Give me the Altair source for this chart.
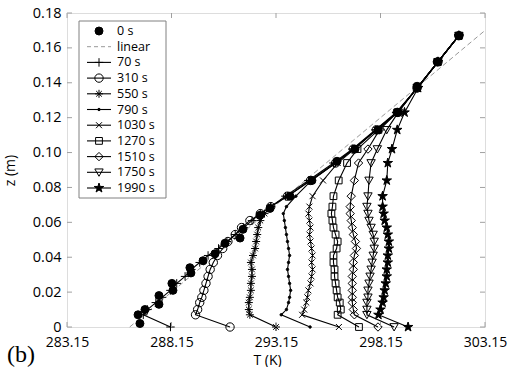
import altair as alt
import pandas as pd

# ---------------- data ----------------
x_ticks = [283.15, 288.15, 293.15, 298.15, 303.15]
y_ticks = [0, 0.02, 0.04, 0.06, 0.08, 0.10, 0.12, 0.14, 0.16, 0.18]

# initial profile (0 s), measured heights
z_0s = [0.002, 0.007, 0.010, 0.013, 0.018, 0.021, 0.025, 0.031, 0.034, 0.038, 0.042, 0.048,
        0.051, 0.056, 0.064, 0.068, 0.075, 0.084, 0.095, 0.102, 0.113, 0.123, 0.138, 0.152, 0.167]
t_0s = [286.64, 286.55, 286.88, 287.55, 287.55, 288.22, 288.17, 289.08, 289.03, 289.66, 290.23, 290.71,
        291.43, 291.57, 292.38, 292.86, 293.82, 294.87, 296.07, 296.93, 298.03, 298.99, 299.9, 300.86, 301.9]

linear_z = [0.0, 0.17]
linear_t = [286.15, 303.15]

# heights shared by the later profiles (first value = surface)
z_levels = [0, 0.007, 0.010, 0.014, 0.017, 0.021, 0.025, 0.029, 0.033, 0.037, 0.041, 0.045, 0.049,
            0.053, 0.057, 0.061, 0.065, 0.069, 0.075, 0.084, 0.094, 0.102, 0.113, 0.123, 0.137, 0.152, 0.167]

series_names = ["70 s", "310 s", "550 s", "790 s", "1030 s", "1270 s", "1510 s", "1750 s", "1990 s"]

t_70 = [288.1, 286.8, 287.0, 287.4, 287.7, 288.1, 288.4, 288.8, 289.1, 289.5, 289.9, 290.4, 290.8,
        291.2, 291.6, 292.0, 292.4, 292.9, 293.6, 294.7, 295.9, 296.8, 297.9, 298.9, 299.9, 300.9, 301.9]
t_310 = [290.95, 289.3, 289.4, 289.5, 289.6, 289.7, 289.8, 289.9, 290.0, 290.15, 290.35, 290.6, 290.85,
         291.2, 291.5, 291.9, 292.4, 292.9, 293.7, 294.8, 296.0, 296.85, 297.95, 298.95, 299.9, 300.9, 301.9]
t_550 = [293.15, 291.9, 291.85, 291.85, 291.9, 291.95, 291.95, 292.0, 292.0, 291.95, 292.05, 292.15, 292.2,
         292.25, 292.3, 292.4, 292.6, 292.9, 293.7, 294.8, 296.0, 296.85, 297.95, 298.95, 299.9, 300.9, 301.9]
t_790 = [294.78, 293.4, 293.65, 293.75, 293.8, 293.85, 293.8, 293.75, 293.7, 293.75, 293.8, 293.75, 293.7,
         293.65, 293.6, 293.55, 293.5, 293.65, 294.1, 294.85, 296.0, 296.85, 297.95, 298.95, 299.9, 300.9, 301.9]
t_1030 = [296.16, 294.4, 294.5, 294.6, 294.65, 294.7, 294.8, 294.85, 294.9, 294.85, 294.9, 294.85, 294.8,
          294.75, 294.8, 294.75, 294.7, 294.75, 294.9, 295.4, 296.1, 296.9, 297.95, 298.95, 299.9, 300.9, 301.9]
t_1270 = [297.12, 296.1, 296.25, 296.2, 296.1, 296.05, 296.0, 295.95, 295.95, 295.9, 295.9, 296.05, 296.1,
          296.0, 295.9, 295.85, 295.8, 295.85, 295.9, 296.15, 296.55, 297.05, 298.05, 298.95, 299.9, 300.9, 301.9]
t_1510 = [298.03, 296.9, 296.85, 296.8, 296.8, 296.8, 296.8, 296.8, 296.85, 296.85, 296.9, 297.0, 296.95,
          296.85, 296.8, 296.75, 296.7, 296.7, 296.75, 296.9, 297.1, 297.55, 298.1, 298.95, 299.9, 300.9, 301.9]
t_1750 = [298.8, 297.5, 297.5, 297.5, 297.55, 297.55, 297.6, 297.65, 297.7, 297.75, 297.8, 297.85, 297.85,
          297.8, 297.7, 297.6, 297.55, 297.5, 297.55, 297.6, 297.7, 298.0, 298.45, 299.0, 299.9, 300.9, 301.9]
t_1990 = [299.47, 298.05, 298.15, 298.25, 298.3, 298.35, 298.4, 298.45, 298.45, 298.5, 298.5, 298.55, 298.55,
          298.5, 298.45, 298.35, 298.3, 298.25, 298.25, 298.45, 298.5, 298.7, 298.95, 299.3, 299.95, 300.9, 301.9]

series_temps = [t_70, t_310, t_550, t_790, t_1030, t_1270, t_1510, t_1750, t_1990]

legend_labels = ["0 s", "linear"] + series_names
panel_label = "(b)"
x_title = "T (K)"
y_title = "z (m)"

# ---------------- styles ----------------
PLUS = "M-1,0L1,0M0,-1L0,1"
AST = "M-1,0L1,0M0,-1L0,1M-0.7,-0.7L0.7,0.7M-0.7,0.7L0.7,-0.7"
XSH = "M-0.8,-0.8L0.8,0.8M-0.8,0.8L0.8,-0.8"
DIAM = "M0,-1L1,0L0,1L-1,0Z"
TRI = "M-1,-0.8L1,-0.8L0,0.95Z"
STAR = ("M0,-1L0.225,-0.309L0.951,-0.309L0.363,0.118L0.588,0.809L0,0.382"
        "L-0.588,0.809L-0.363,0.118L-0.951,-0.309L-0.225,-0.309Z")

styles = {
    "0 s": dict(shape="circle", size=64, filled=True),
    "70 s": dict(shape=PLUS, size=72, filled=False),
    "310 s": dict(shape="circle", size=70, filled=False),
    "550 s": dict(shape=AST, size=64, filled=False),
    "790 s": dict(shape="circle", size=6, filled=True),
    "1030 s": dict(shape=XSH, size=56, filled=False),
    "1270 s": dict(shape="square", size=46, filled=False),
    "1510 s": dict(shape=DIAM, size=70, filled=False),
    "1750 s": dict(shape=TRI, size=70, filled=False),
    "1990 s": dict(shape=STAR, size=100, filled=True),
}

# ---------------- tables ----------------
rows = []
for z, t in zip(z_0s, t_0s):
    rows.append({"series": "0 s", "z": z, "T": t})
for name, temps in zip(series_names, series_temps):
    for z, t in zip(z_levels, temps):
        rows.append({"series": name, "z": z, "T": t})
df = pd.DataFrame(rows)
lin_df = pd.DataFrame({"T": linear_t, "z": linear_z})
xt_df = pd.DataFrame({"v": x_ticks})
yt_df = pd.DataFrame({"v": y_ticks})
leg_df = pd.DataFrame({"label": legend_labels, "idx": list(range(len(legend_labels)))})

W, H = 418, 314
FONT = "Open Sans"
FRAME = "#a0a0a0"

xscale = alt.Scale(domain=[283.15, 303.15], nice=False, zero=False)
yscale = alt.Scale(domain=[0, 0.18], nice=False, zero=False)

x_axis = alt.Axis(values=x_ticks, format=".2f", title=x_title, grid=False, ticks=False, domain=False,
                  labelFontSize=14, labelPadding=8, labelFlush=False, labelColor="black",
                  labelFont=FONT, titleFont=FONT, titleFontSize=14, titleFontWeight="normal",
                  titleColor="black", titleX=200, titleY=37, titleBaseline="alphabetic")
y_axis = alt.Axis(values=y_ticks, labelExpr="datum.value == 0 ? '0' : format(datum.value, '.2f')",
                  title=y_title, grid=False, ticks=False, domain=False, labelFontSize=14.5,
                  labelPadding=6, labelColor="black", labelFont=FONT, labelFlush=False,
                  titleFont=FONT, titleFontSize=14, titleFontWeight="normal", titleColor="black",
                  titleX=-53, titleY=157, titleBaseline="alphabetic", titleAngle=270)

X = alt.X("T:Q", scale=xscale, axis=x_axis)
Y = alt.Y("z:Q", scale=yscale, axis=y_axis)

data_layers = []
data_layers.append(
    alt.Chart(lin_df).mark_line(color="#999999", strokeDash=[5, 3], strokeWidth=1).encode(x=X, y=Y)
)
data_layers.append(
    alt.Chart(df).transform_filter(alt.datum.series != "0 s")
    .mark_line(color="black", strokeWidth=1.1)
    .encode(x=X, y=Y, detail="series:N", order="z:Q")
)
for name in ["0 s"] + series_names:
    st = styles[name]
    data_layers.append(
        alt.Chart(df).transform_filter(alt.datum.series == name)
        .mark_point(shape=st["shape"], size=st["size"], filled=st["filled"], color="black",
                    stroke="black", strokeWidth=1, opacity=1)
        .encode(x=X, y=Y)
    )

# inward ticks on all four sides
XV = alt.X("v:Q", scale=xscale, axis=x_axis)
YV = alt.Y("v:Q", scale=yscale, axis=y_axis)
data_layers.append(alt.Chart(xt_df).mark_rule(color=FRAME).encode(x=XV, y=alt.value(H), y2=alt.value(H - 5)))
data_layers.append(alt.Chart(xt_df).mark_rule(color=FRAME).encode(x=XV, y=alt.value(0), y2=alt.value(5)))
data_layers.append(alt.Chart(yt_df).mark_rule(color=FRAME).encode(y=YV, x=alt.value(0), x2=alt.value(5)))
data_layers.append(alt.Chart(yt_df).mark_rule(color=FRAME).encode(y=YV, x=alt.value(W), x2=alt.value(W - 5)))

data_group = alt.layer(*data_layers)

# ---------------- legend ----------------
LY = alt.Y("idx:Q", scale=alt.Scale(domain=[0, 10], range=[18, 175]), axis=None)
leg_layers = []
leg_layers.append(
    alt.Chart(pd.DataFrame({"a": [0]})).mark_rect(fill="white", stroke="#808080", strokeWidth=1)
    .encode(x=alt.value(12), x2=alt.value(99), y=alt.value(8), y2=alt.value(185))
)
leg_layers.append(
    alt.Chart(leg_df).transform_filter(alt.FieldOneOfPredicate(field="label", oneOf=series_names))
    .mark_rule(color="black", strokeWidth=1.1)
    .encode(x=alt.value(20), x2=alt.value(44), y=LY)
)
leg_layers.append(
    alt.Chart(leg_df).transform_filter(alt.datum.label == "linear")
    .mark_rule(color="#999999", strokeDash=[4, 3], strokeWidth=1)
    .encode(x=alt.value(20), x2=alt.value(44), y=LY)
)
for name in ["0 s"] + series_names:
    st = styles[name]
    leg_layers.append(
        alt.Chart(leg_df).transform_filter(alt.datum.label == name)
        .mark_point(shape=st["shape"], size=st["size"], filled=st["filled"], color="black",
                    stroke="black", strokeWidth=1, opacity=1)
        .encode(x=alt.value(32), y=LY)
    )
leg_layers.append(
    alt.Chart(leg_df).mark_text(align="left", baseline="middle", fontSize=12.5, font=FONT, color="black")
    .encode(x=alt.value(50), y=LY, text="label:N")
)
leg_layers.append(
    alt.Chart(pd.DataFrame({"t": [panel_label]}))
    .mark_text(align="left", baseline="alphabetic", fontSize=24, font="Liberation Serif", color="black")
    .encode(x=alt.value(-60), y=alt.value(349), text="t:N")
)
legend_group = alt.layer(*leg_layers)

chart = (
    alt.layer(data_group, legend_group)
    .resolve_scale(x="independent", y="independent")
    .properties(width=W, height=H, autosize="none",
                padding={"left": 67, "top": 13, "right": 23, "bottom": 40})
    .configure_view(stroke=FRAME, strokeWidth=1)
    .configure(font=FONT, background="white")
)

chart.save("out.html", embed_options={"renderer": "svg", "actions": False})
